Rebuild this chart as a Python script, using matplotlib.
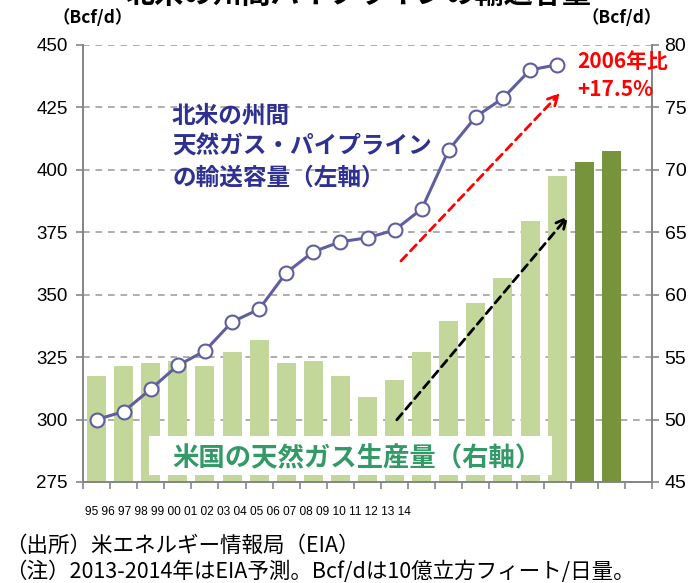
import matplotlib
matplotlib.use("Agg")
import matplotlib.pyplot as plt
from matplotlib.patches import Rectangle, FancyArrowPatch

# ---- data ----
years = ["95", "96", "97", "98", "99", "00", "01", "02", "03", "04",
         "05", "06", "07", "08", "09", "10", "11", "12", "13", "14"]
production = [53.5, 54.3, 54.5, 54.7, 54.3, 55.4, 56.4, 54.5, 54.7, 53.5,
              51.8, 53.2, 55.4, 57.9, 59.3, 61.3, 65.9, 69.5, 70.6, 71.5]
forecast = [False] * 18 + [True, True]
capacity = [300.0, 303.2, 312.2, 321.7, 327.5, 339.1, 344.2, 358.8, 367.2, 371.2,
            372.8, 375.9, 384.3, 408.0, 421.3, 428.7, 440.0, 442.1]
left_ticks = [275, 300, 325, 350, 375, 400, 425, 450]
right_ticks = [45, 50, 55, 60, 65, 70, 75, 80]

W, H = 693, 583
fig = plt.figure(figsize=(W / 100, H / 100), dpi=100)
fx = lambda px: px / W
fy = lambda py: 1 - py / H

JP = ["Noto Sans CJK JP", "DejaVu Sans"]
NUM = ["Liberation Sans", "DejaVu Sans"]

L, R, T, B = 83, 652, 45, 482
ax = fig.add_axes([fx(L), fy(B), (R - L) / W, (B - T) / H])
ax2 = ax.twinx()
ax.set_zorder(ax2.get_zorder() + 1)
ax.patch.set_visible(False)

n_slots = len(years) + 1
xs = list(range(len(years)))

light, dark = "#c4d79b", "#77933c"
ax2.bar(xs, production, width=0.7,
        color=[dark if f else light for f in forecast], zorder=2)
ax2.set_ylim(45, 80)
ax2.set_yticks(right_ticks)
ax2.yaxis.grid(True, linestyle=(0, (4, 3.5)), color="#a0a0a0", linewidth=1.2, zorder=0)
ax2.set_axisbelow(True)

lc = "#5f5f9f"
ax.plot(xs[:len(capacity)], capacity, color=lc, linewidth=2.2, marker="o",
        markersize=10, markerfacecolor="white", markeredgecolor=lc,
        markeredgewidth=1.5, zorder=5, clip_on=False)
ax.set_ylim(275, 450)
ax.set_yticks(left_ticks)
ax.set_xlim(-0.5, n_slots - 0.5)

# x ticks at category boundaries
bounds = [i - 0.5 for i in range(n_slots + 1)]
ax.set_xticks(bounds)
ax.set_xticklabels([])
ax.tick_params(axis="x", direction="out", length=5, color="#868686", width=1.2)
ax.tick_params(axis="y", direction="out", length=5, color="#868686", width=1.2,
               labelsize=13.5, pad=6)
ax2.tick_params(axis="y", direction="out", length=5, color="#868686", width=1.2,
                labelsize=14, pad=4)
for a in (ax, ax2):
    for lab in a.get_yticklabels():
        lab.set_family(NUM)
    a.spines["top"].set_visible(False)
    for s in ("left", "right", "bottom"):
        a.spines[s].set_color("#868686")
        a.spines[s].set_linewidth(1.3)
ax2.tick_params(axis="x", length=0)

# x labels (condensed line under axis)
fig.text(fx(85), fy(512), " ".join(years), ha="left", va="center",
         family=NUM, fontsize=8.6)

# axis unit labels
fig.text(fx(93), fy(18), "（Bcf/d）", ha="center", va="center", family=JP,
         fontsize=12.5, fontweight="bold")
fig.text(fx(622), fy(18), "（Bcf/d）", ha="center", va="center", family=JP,
         fontsize=12.5, fontweight="bold")

# clipped title
fig.text(fx(358), fy(-6), "北米の州間パイプラインの輸送容量", ha="center",
         va="center", family=JP, fontsize=21, fontweight="bold")

# blue annotation
fig.text(fx(172), fy(104), "北米の州間\n天然ガス・パイプライン\nの輸送容量（左軸）",
         ha="left", va="top", family=JP, fontsize=17, fontweight="bold",
         color="#2e3192", linespacing=1.35)

# green annotation box
ax2.add_patch(Rectangle(((149 - L) / (R - L), (B - 475) / (B - T)),
                        (552 - 149) / (R - L), (475 - 436) / (B - T),
                        transform=ax2.transAxes, facecolor="white",
                        edgecolor="none", zorder=3))
ax2.text((172 - L) / (R - L), (B - 459) / (B - T), "米国の天然ガス生産量（右軸）",
         transform=ax2.transAxes, ha="left", va="center", family=JP,
         fontsize=19, fontweight="bold", color="#339966", zorder=4)

# red annotation
fig.text(fx(577), fy(62), "2006年比", ha="left", va="center", family=JP,
         fontsize=15, fontweight="bold", color="#ff0000")
fig.text(fx(577), fy(89), "+17.5%", ha="left", va="center", family=JP,
         fontsize=15, fontweight="bold", color="#ff0000")

# arrows
def arrow(x0, y0, x1, y1, color):
    fig.add_artist(FancyArrowPatch(
        (fx(x0), fy(y0)), (fx(x1), fy(y1)), transform=fig.transFigure,
        arrowstyle="->", mutation_scale=18, color=color, linewidth=2,
        linestyle=(0, (3, 2)), zorder=10))

arrow(399, 263, 562, 91, "#ff0000")
arrow(395, 422, 570, 214, "black")

# footnotes
fig.text(fx(5), fy(546), "（出所）米エネルギー情報局（EIA）", ha="left", va="center",
         family=JP, fontsize=15.5)
fig.text(fx(5), fy(572), "（注）2013-2014年はEIA予測。Bcf/dは10億立方フィート/日量。",
         ha="left", va="center", family=JP, fontsize=15.5)

fig.savefig("out.png", dpi=100, facecolor="white")
